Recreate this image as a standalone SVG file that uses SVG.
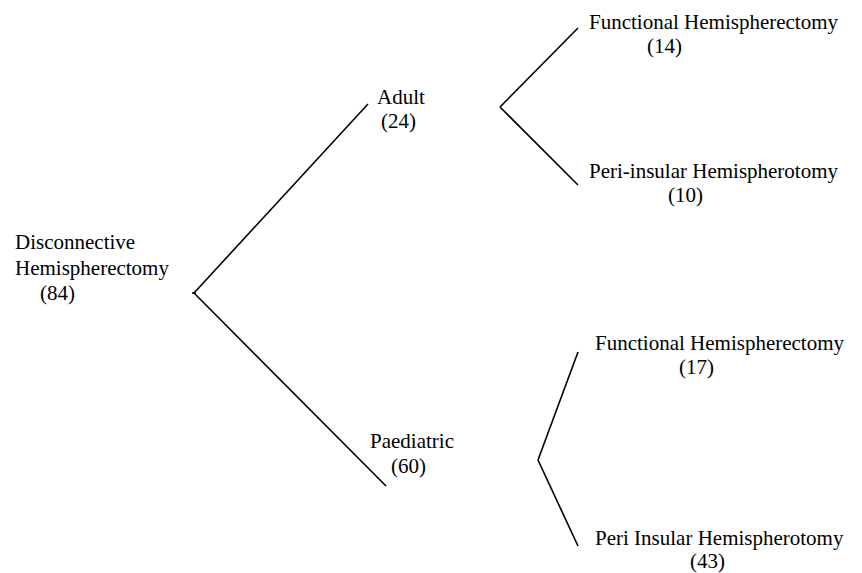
<svg xmlns="http://www.w3.org/2000/svg" width="862" height="573" viewBox="0 0 862 573">
<style>
text{font-family:"Liberation Serif","Times New Roman",serif;font-size:21px;fill:#000}
.c line{stroke:#000;stroke-width:1.6;fill:none}
</style>
<rect width="862" height="573" fill="#fff"/>
<g class="c" id="connectors">
<line x1="194" y1="293" x2="368" y2="104"/>
<line x1="194" y1="293" x2="386" y2="486"/>
<line x1="192" y1="293" x2="196" y2="293"/>
<line x1="500" y1="107" x2="578" y2="28"/>
<line x1="500" y1="107" x2="578" y2="185"/>
<line x1="538" y1="460" x2="578" y2="352"/>
<line x1="538" y1="460" x2="578" y2="546"/>
</g>
<g id="root"><text x="15" y="249">Disconnective</text><text x="15" y="275">Hemispherectomy</text><text x="40" y="300">(84)</text></g>
<g id="adult"><text x="377" y="104">Adult</text><text x="381" y="128">(24)</text></g>
<g id="adult-fh"><text x="589" y="29">Functional Hemispherectomy</text><text x="647" y="53">(14)</text></g>
<g id="adult-pi"><text x="589" y="178">Peri-insular Hemispherotomy</text><text x="668" y="202">(10)</text></g>
<g id="paed"><text x="370" y="448">Paediatric</text><text x="391" y="473">(60)</text></g>
<g id="paed-fh"><text x="595" y="350">Functional Hemispherectomy</text><text x="679" y="374">(17)</text></g>
<g id="paed-pi"><text x="595" y="545">Peri Insular Hemispherotomy</text><text x="690" y="568">(43)</text></g>
</svg>
